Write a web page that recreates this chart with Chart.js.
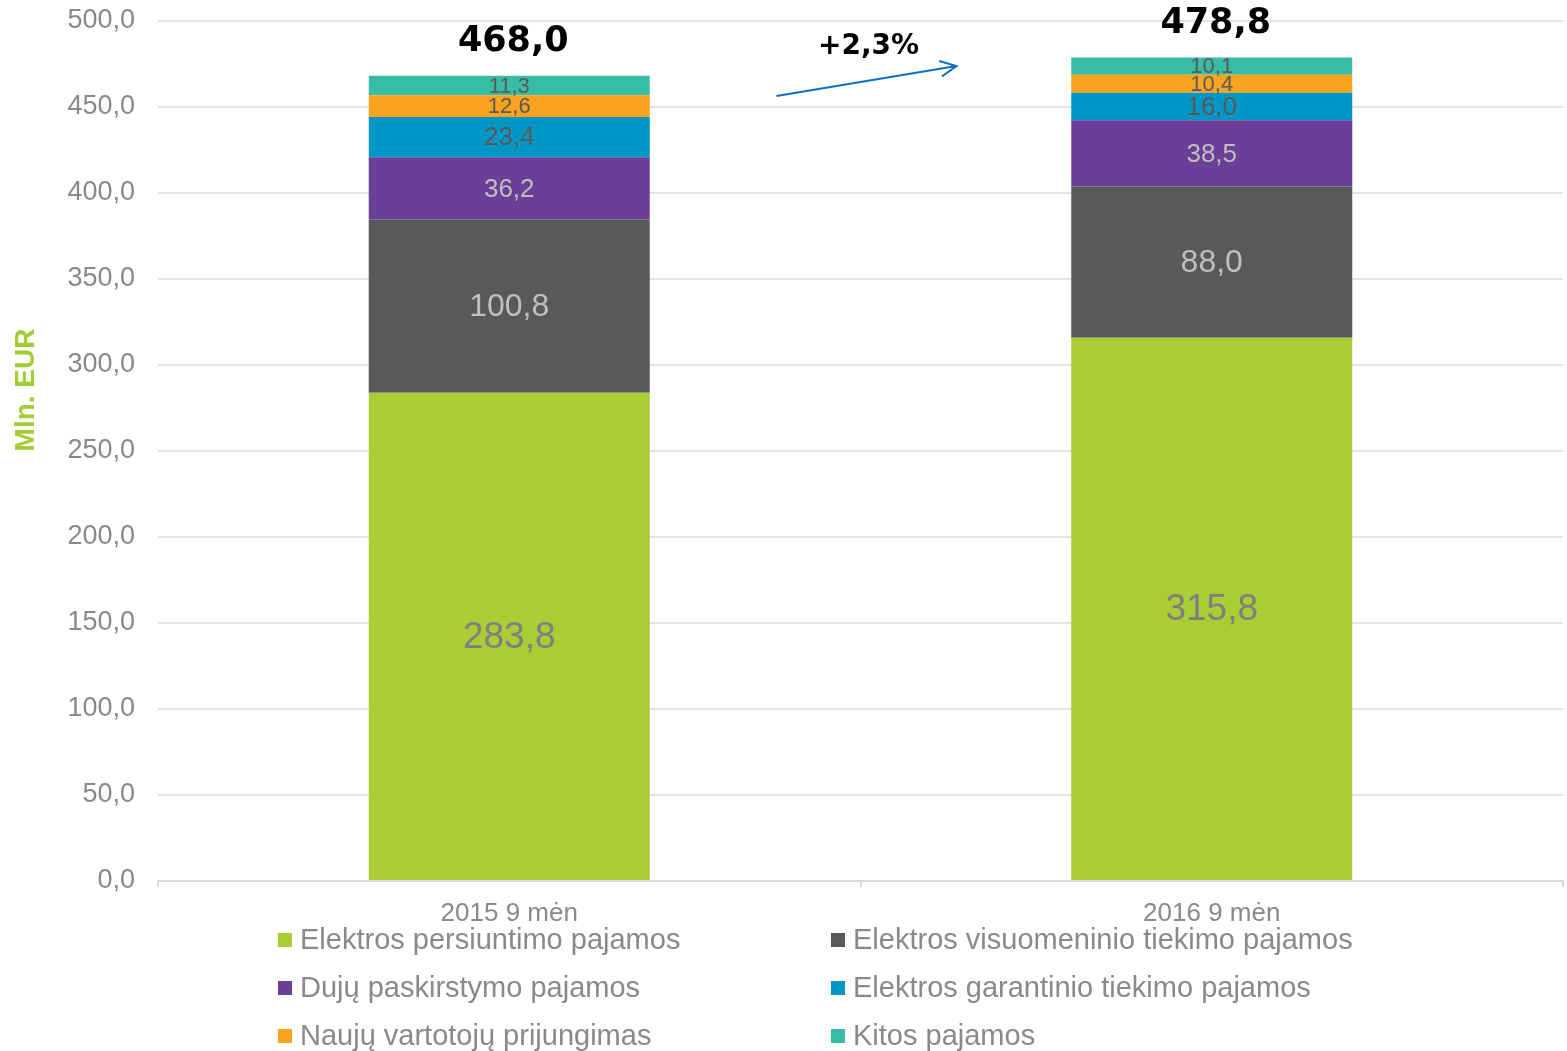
<!DOCTYPE html>
<html>
<head>
<meta charset="utf-8">
<script src="https://cdn.jsdelivr.net/npm/chart.js@4/dist/chart.umd.min.js"></script>
<style>
    body { margin: 0; background: #fff; }
    #wrap { width: 1567px; height: 1051px; }
</style>
</head>
<body>
<div id="wrap"><canvas id="chart"></canvas></div>
<script>
const periods = ["2015 9 mėn", "2016 9 mėn"];
const seriesNames = [
    "Elektros persiuntimo pajamos",
    "Elektros visuomeninio tiekimo pajamos",
    "Dujų paskirstymo pajamos",
    "Elektros garantinio tiekimo pajamos",
    "Naujų vartotojų prijungimas",
    "Kitos pajamos"
];
const transmission = [283.8, 315.8];
const publicSupply = [100.8, 88.0];
const gasDistribution = [36.2, 38.5];
const guaranteedSupply = [23.4, 16.0];
const newConnections = [12.6, 10.4];
const otherIncome = [11.3, 10.1];
const totals = [468.0, 478.8];
const growthLabel = "+2,3%";
const yTitle = "Mln. EUR";
const yTicks = [0, 50, 100, 150, 200, 250, 300, 350, 400, 450, 500];

const barColors = ['#aacd36', '#58595b', '#6b3f98', '#0097c6', '#f9a31e', '#38bca4'];
const labelColors = ['#7f7f7f', '#bfbfbf', '#bfbfbf', '#595959', '#595959', '#595959'];
const seriesValues = [transmission, publicSupply, gasDistribution, guaranteedSupply, newConnections, otherIncome];

const fmt = v => v.toFixed(1).replace('.', ',');

function labelSize(v) {
    if (v > 200) return 37;
    if (v > 80) return 32;
    if (v > 15) return 26;
    return 22;
}

// segment values, totals, growth arrow, axis title, legend
const overlay = {
    id: 'overlay',
    afterDatasetsDraw(chart) {
        const ctx = chart.ctx;
        const xs = chart.scales.x, ys = chart.scales.y;
        ctx.save();
        ctx.textAlign = 'center';
        ctx.textBaseline = 'middle';
        chart.data.datasets.forEach((ds, di) => {
            chart.getDatasetMeta(di).data.forEach((bar, i) => {
                const v = ds.data[i];
                ctx.font = labelSize(v) + 'px "Liberation Sans", Arial, sans-serif';
                ctx.fillStyle = labelColors[di];
                ctx.fillText(fmt(v), bar.x, (bar.y + bar.base) / 2 + 1);
            });
        });
        // totals above bars
        const topMeta = chart.getDatasetMeta(chart.data.datasets.length - 1);
        ctx.font = 'bold 35px "DejaVu Sans", sans-serif';
        ctx.fillStyle = '#000';
        totals.forEach((t, i) => {
            const bar = topMeta.data[i];
            ctx.fillText(fmt(t), bar.x + 4, bar.y - 34);
        });
        // growth arrow
        const midX = (xs.getPixelForValue(0) + xs.getPixelForValue(1)) / 2;
        const x1 = midX - 84, y1 = ys.getPixelForValue(456.4);
        const x2 = midX + 96, y2 = ys.getPixelForValue(473.8);
        ctx.strokeStyle = '#0b70c0';
        ctx.lineWidth = 2;
        ctx.beginPath();
        ctx.moveTo(x1, y1);
        ctx.lineTo(x2, y2);
        const a = Math.atan2(y2 - y1, x2 - x1);
        ctx.moveTo(x2 - 18 * Math.cos(a - 0.45), y2 - 18 * Math.sin(a - 0.45));
        ctx.lineTo(x2, y2);
        ctx.lineTo(x2 - 18 * Math.cos(a + 0.45), y2 - 18 * Math.sin(a + 0.45));
        ctx.stroke();
        ctx.font = 'bold 28px "DejaVu Sans", sans-serif';
        ctx.fillStyle = '#000';
        ctx.fillText(growthLabel, midX + 8, ys.getPixelForValue(485));
        ctx.restore();
    },
    afterDraw(chart) {
        const ctx = chart.ctx;
        const colX = [278, 831];
        const rowY = [940, 988, 1036];
        ctx.save();
        // y axis title
        ctx.translate(26, 390);
        ctx.rotate(-Math.PI / 2);
        ctx.font = 'bold 28px "Liberation Sans", Arial, sans-serif';
        ctx.fillStyle = '#a4cc35';
        ctx.textAlign = 'center';
        ctx.textBaseline = 'middle';
        ctx.fillText(yTitle, 0, 0);
        ctx.restore();

        ctx.save();
        ctx.font = '29px "Liberation Sans", Arial, sans-serif';
        ctx.textAlign = 'left';
        ctx.textBaseline = 'middle';
        seriesNames.forEach((name, i) => {
            const x = colX[i % 2], y = rowY[Math.floor(i / 2)];
            ctx.fillStyle = barColors[i];
            ctx.fillRect(x, y - 7, 14, 14);
            ctx.fillStyle = '#898989';
            ctx.fillText(name, x + 22, y + 1);
        });
        ctx.restore();
    }
};

new Chart(document.getElementById('chart'), {
    type: 'bar',
    data: {
        labels: periods,
        datasets: seriesNames.map((name, i) => ({
            label: name,
            data: seriesValues[i],
            backgroundColor: barColors[i],
            borderWidth: 0,
            categoryPercentage: 1,
            barPercentage: 0.4
        }))
    },
    options: {
        responsive: true,
        maintainAspectRatio: false,
        animation: false,
        layout: { padding: { top: 21, right: 4, left: 0, bottom: 0 } },
        plugins: {
            legend: { display: false },
            tooltip: { enabled: false }
        },
        scales: {
            x: {
                stacked: true,
                afterFit: s => { s.height = 170; s.paddingLeft = 0; s.paddingRight = 0; },
                border: { display: true, color: '#d9d9d9', width: 2 },
                grid: { offset: true, drawOnChartArea: false, drawTicks: true, tickLength: 6, color: '#d9d9d9', lineWidth: 2 },
                ticks: {
                    color: '#898989',
                    padding: 11,
                    font: { family: '"Liberation Sans", Arial, sans-serif', size: 26 }
                }
            },
            y: {
                stacked: true,
                min: 0,
                max: 500,
                afterFit: s => { s.width = 158; s.paddingTop = 0; s.paddingBottom = 0; },
                afterBuildTicks: s => { s.ticks = yTicks.map(v => ({ value: v })); },
                border: { display: false },
                grid: { color: '#e3e3e3', lineWidth: 2, drawTicks: false },
                ticks: {
                    color: '#898989',
                    padding: 23,
                    font: { family: '"Liberation Sans", Arial, sans-serif', size: 27 },
                    callback: v => fmt(v)
                }
            }
        }
    },
    plugins: [overlay]
});
</script>
</body>
</html>
